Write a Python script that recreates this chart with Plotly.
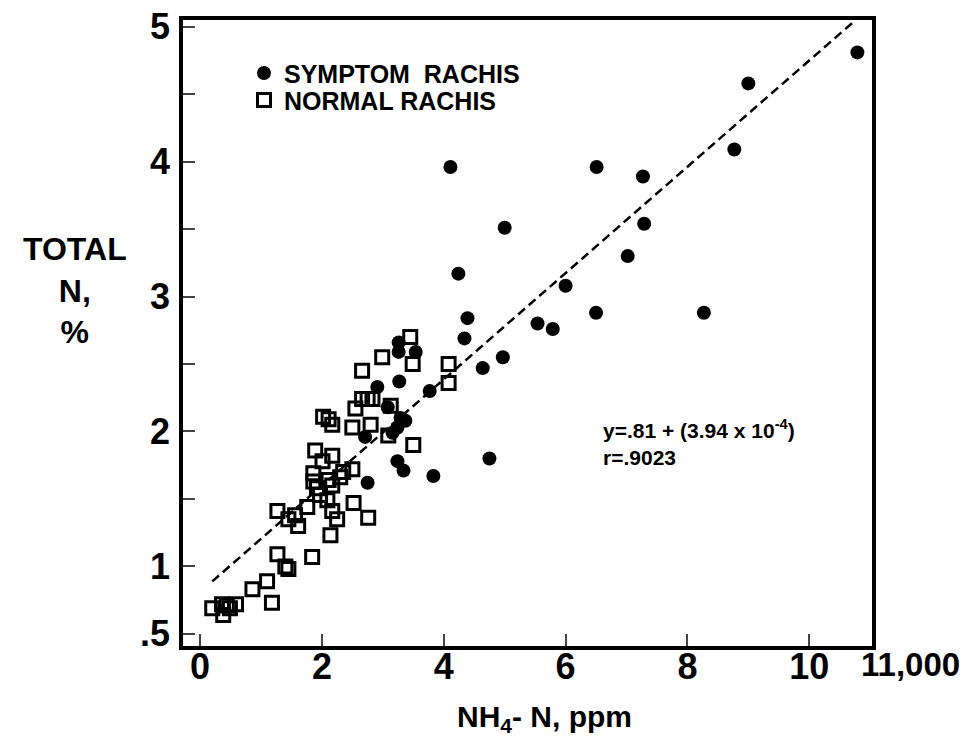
import plotly.graph_objects as go

# NH4-N (thousands of ppm) and total N (%)
symptom_x = [10.79, 9.00, 8.77, 4.11, 6.51, 7.27, 5.00, 7.29, 7.02, 4.24, 6.00, 4.39,
             4.34, 5.54, 5.79, 6.50, 8.27, 4.97, 4.64, 3.77, 4.75, 3.83, 3.26, 3.26,
             3.54, 3.27, 2.91, 3.08, 3.29, 3.37, 3.24, 3.16, 2.71, 3.24, 3.34, 2.75]
symptom_y = [4.81, 4.58, 4.09, 3.96, 3.96, 3.89, 3.51, 3.54, 3.30, 3.17, 3.08, 2.84,
             2.69, 2.80, 2.76, 2.88, 2.88, 2.55, 2.47, 2.30, 1.80, 1.67, 2.66, 2.59,
             2.59, 2.37, 2.33, 2.18, 2.10, 2.08, 2.03, 1.99, 1.96, 1.78, 1.71, 1.62]

normal_x = [3.45, 2.99, 3.49, 2.66, 4.08, 4.08, 2.66, 2.75, 2.83, 2.55, 3.13, 2.02,
            2.11, 2.17, 2.50, 2.80, 3.09, 3.50, 1.89, 2.17, 2.01, 2.50, 2.35, 2.30,
            1.86, 1.86, 1.92, 2.11, 2.17, 1.97, 2.09, 2.52, 2.76, 1.76, 1.27, 1.56,
            1.45, 1.61, 2.17, 2.25, 2.14, 1.27, 1.84, 1.40, 1.45, 1.10, 0.86, 1.18,
            0.20, 0.36, 0.38, 0.49, 0.59, 0.44]
normal_y = [2.70, 2.55, 2.50, 2.45, 2.50, 2.36, 2.24, 2.24, 2.24, 2.17, 2.19, 2.11,
            2.09, 2.05, 2.03, 2.05, 1.97, 1.90, 1.86, 1.82, 1.78, 1.72, 1.70, 1.66,
            1.69, 1.63, 1.58, 1.64, 1.60, 1.53, 1.49, 1.47, 1.36, 1.44, 1.41, 1.38,
            1.35, 1.30, 1.41, 1.35, 1.23, 1.09, 1.07, 1.00, 0.98, 0.89, 0.83, 0.73,
            0.69, 0.72, 0.64, 0.69, 0.72, 0.71]

# regression line y = .81 + 3.94e-4 * ppm  (x in thousands)
intercept = 0.81
slope = 0.394
fit_x = [0.2, 10.75]
fit_y = [intercept + slope * v for v in fit_x]

x_ticks = [0, 2, 4, 6, 8, 10]
y_ticks = [0.5, 1, 1.5, 2, 2.5, 3, 3.5, 4, 4.5, 5]
y_labels = ['.5', '1', '', '2', '', '3', '', '4', '', '5']

FONT = 'Liberation Sans, Arial, sans-serif'

fig = go.Figure()
fig.add_trace(go.Scatter(x=fit_x, y=fit_y, mode='lines', showlegend=False,
                         line=dict(color='black', width=2.5, dash='9px,5px')))
fig.add_trace(go.Scatter(x=symptom_x, y=symptom_y, mode='markers', name='SYMPTOM  RACHIS',
                         legend='legend',
                         marker=dict(symbol='circle', size=14, color='black', line=dict(width=0))))
fig.add_trace(go.Scatter(x=normal_x, y=normal_y, mode='markers', name='NORMAL RACHIS',
                         legend='legend2',
                         marker=dict(symbol='square-open', size=13, color='black',
                                     line=dict(width=3, color='black'))))

fig.update_xaxes(range=[-0.28, 11.03], tickvals=x_ticks, ticks='inside', ticklen=12, tickwidth=2,
                 showline=True, mirror=True, linewidth=3.5, linecolor='black',
                 showgrid=False, zeroline=False, ticklabelstandoff=-14, automargin=False,
                 ticklabeloverflow='allow',
                 tickfont=dict(family=FONT, size=36, color='black', weight='bold'))
fig.update_yaxes(range=[0.41, 5.05], tickvals=y_ticks, ticktext=y_labels, ticks='inside',
                 ticklen=12, tickwidth=2,
                 showline=True, mirror=True, linewidth=3.5, linecolor='black',
                 showgrid=False, zeroline=False, ticklabelstandoff=2, automargin=False,
                 ticklabeloverflow='allow',
                 tickfont=dict(family=FONT, size=36, color='black', weight='bold'))

fig.add_annotation(x=11, y=0, xref='x', yref='paper', xanchor='left', yanchor='top',
                   xshift=-11, yshift=2, showarrow=False, text='11,000',
                   font=dict(family=FONT, size=33, color='black', weight='bold'))
fig.add_annotation(x=0.525, y=-0.116, xref='paper', yref='paper', xanchor='center',
                   yanchor='middle', showarrow=False, text='NH<sub>4</sub>- N, ppm',
                   font=dict(family=FONT, size=30, color='black', weight='bold'))
fig.add_annotation(x=-0.157, y=0.568, xref='paper', yref='paper', xanchor='center',
                   yanchor='middle', showarrow=False, text='TOTAL<br>N,<br>%',
                   font=dict(family=FONT, size=32, color='black', weight='bold'))
eq_font = dict(family=FONT, size=21, color='black', weight='bold')
fig.add_annotation(x=0.607, y=0.346, xref='paper', yref='paper', xanchor='left',
                   yanchor='middle', showarrow=False,
                   text='y=.81 + (3.94 x 10<sup>-4</sup>)', font=eq_font)
fig.add_annotation(x=0.607, y=0.301, xref='paper', yref='paper', xanchor='left',
                   yanchor='middle', showarrow=False, text='r=.9023', font=eq_font)

legend_font = dict(family=FONT, size=25, color='black', weight='bold')
# the page body adds an 8px margin, so the figure is sized to fit the 973x745 window
fig.update_layout(
    width=957, height=729,
    margin=dict(l=175, r=93, t=12, b=91, autoexpand=False),
    plot_bgcolor='white', paper_bgcolor='white',
    legend=dict(x=0.0885, y=0.915, xanchor='left', yanchor='middle',
                bgcolor='rgba(0,0,0,0)', itemsizing='trace', font=legend_font),
    legend2=dict(x=0.0885, y=0.872, xanchor='left', yanchor='middle',
                 bgcolor='rgba(0,0,0,0)', itemsizing='trace', font=legend_font),
)

fig.write_html("out.html")
